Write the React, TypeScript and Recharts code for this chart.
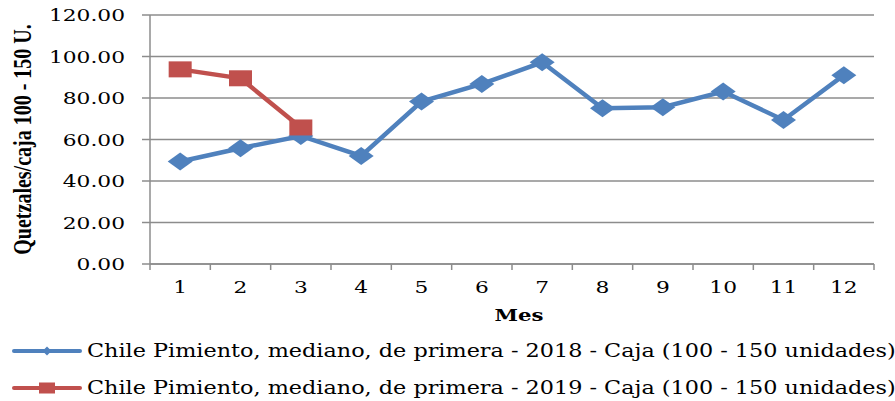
import { LineChart, Line, XAxis, YAxis, CartesianGrid } from "recharts"

// Precio mensual (Q/caja)
const meses = ["1", "2", "3", "4", "5", "6", "7", "8", "9", "10", "11", "12"]
const precios2018 = [49.4, 55.8, 61.7, 52.1, 78.3, 86.8, 97.2, 75.1, 75.6, 83.1, 69.4, 91.0]
const precios2019 = [93.8, 89.5, 65.8, null, null, null, null, null, null, null, null, null]
const yTicks = [0, 20, 40, 60, 80, 100, 120]
const nombresSeries = [
  "Chile Pimiento, mediano, de primera - 2018 - Caja (100 - 150 unidades)",
  "Chile Pimiento, mediano, de primera - 2019 - Caja (100 - 150 unidades)",
]
const tituloX = "Mes"
const tituloY = "Quetzales/caja 100 - 150 U."

const data = meses.map((mes, i) => ({
  mes,
  a2018: precios2018[i],
  a2019: precios2019[i],
}))

const AZUL = "#4F81BD"
const ROJO = "#C0504D"
const GRIS = "#8C8C8C"
const SERIF = "'DejaVu Serif', serif"
const ANCHO = 895
const ALTO = 401
const MARGEN = { top: 15, right: 21, bottom: 107, left: 0 }
const MEDIO_PASO = (ANCHO - 150 - MARGEN.right) / meses.length / 2

function XTick(props: any) {
  const { x, y, payload } = props
  const ultimo = payload.value === meses[meses.length - 1]
  return (
    <g>
      <line x1={x - MEDIO_PASO} x2={x - MEDIO_PASO} y1={y} y2={y + 6} stroke={GRIS} strokeWidth={1.5} />
      {ultimo && (
        <line x1={x + MEDIO_PASO} x2={x + MEDIO_PASO} y1={y} y2={y + 6} stroke={GRIS} strokeWidth={1.5} />
      )}
      <text
        transform={`translate(${x},${y + 29}) scale(1.28,1)`}
        textAnchor="middle"
        fontFamily={SERIF}
        fontSize={17}
        fill="#000"
      >
        {payload.value}
      </text>
    </g>
  )
}

function YTick(props: any) {
  const { x, y, payload } = props
  return (
    <text
      transform={`translate(${x},${y + 6}) scale(1.28,1)`}
      textAnchor="end"
      fontFamily={SERIF}
      fontSize={17}
      fill="#000"
    >
      {Number(payload.value).toFixed(2)}
    </text>
  )
}

function Rombo(props: any) {
  const { cx, cy } = props
  if (cx == null || cy == null) return null
  return (
    <polygon
      points={`${cx - 12.5},${cy} ${cx},${cy - 9} ${cx + 12.5},${cy} ${cx},${cy + 9}`}
      fill={AZUL}
    />
  )
}

function Cuadro(props: any) {
  const { cx, cy, value } = props
  if (cx == null || cy == null || value == null) return null
  return <rect x={cx - 11.5} y={cy - 8} width={23} height={16} fill={ROJO} />
}

function TituloY(props: any) {
  const { viewBox } = props
  const cy = viewBox.y + viewBox.height / 2
  return (
    <text
      transform={`translate(${viewBox.x + 23},${cy}) rotate(-90) scale(1,1.25)`}
      textAnchor="middle"
      dominantBaseline="central"
      fontFamily="'Liberation Serif', serif"
      fontWeight="bold"
      fontSize={20}
      fill="#000"
    >
      {tituloY}
    </text>
  )
}

function TituloX(props: any) {
  const { viewBox } = props
  return (
    <text
      transform={`translate(${viewBox.x + viewBox.width / 2 + 7},${viewBox.y + 57}) scale(1.25,1)`}
      textAnchor="middle"
      fontFamily={SERIF}
      fontWeight="bold"
      fontSize={17}
      fill="#000"
    >
      {tituloX}
    </text>
  )
}

function Leyenda() {
  const filas = [
    { color: AZUL, tipo: "rombo", top: 341 },
    { color: ROJO, tipo: "cuadro", top: 378 },
  ]
  return (
    <>
      {filas.map((f, i) => (
        <div
          key={i}
          style={{
            position: "absolute",
            left: 12,
            top: f.top,
            height: 20,
            display: "flex",
            alignItems: "center",
            whiteSpace: "nowrap",
          }}
        >
          <svg width={70} height={20}>
            <line x1={2} x2={68} y1={10} y2={10} stroke={f.color} strokeWidth={4} strokeLinecap="round" />
            {f.tipo === "rombo" ? (
              <polygon points="30.5,10 35,5.5 39.5,10 35,14.5" fill={f.color} />
            ) : (
              <rect x={27} y={4.5} width={16} height={11} fill={f.color} />
            )}
          </svg>
          <span
            style={{
              marginLeft: 5,
              fontFamily: SERIF,
              fontSize: 18,
              lineHeight: "20px",
              display: "inline-block",
              transform: "scaleX(1.24)",
              transformOrigin: "left center",
              color: "#000",
            }}
          >
            {nombresSeries[i]}
          </span>
        </div>
      ))}
    </>
  )
}

export default function App() {
  return (
    <div
      style={{
        position: "absolute",
        left: 0,
        top: 0,
        width: ANCHO,
        height: ALTO,
        background: "#fff",
        overflow: "hidden",
      }}
    >
      <LineChart width={ANCHO} height={ALTO} data={data} margin={MARGEN}>
        <CartesianGrid vertical={false} stroke={GRIS} strokeWidth={1.5} />
        <XAxis
          dataKey="mes"
          height={30}
          padding={{ left: MEDIO_PASO, right: MEDIO_PASO }}
          stroke={GRIS}
          strokeWidth={1.5}
          tickLine={false}
          tickSize={0}
          tickMargin={0}
          interval={0}
          tick={<XTick />}
          label={{ content: <TituloX /> }}
        />
        <YAxis
          width={150}
          domain={[0, 120]}
          ticks={yTicks}
          stroke={GRIS}
          strokeWidth={1.5}
          tickSize={8}
          tickMargin={17}
          tick={<YTick />}
          label={{ content: <TituloY /> }}
        />
        <Line
          dataKey="a2018"
          stroke={AZUL}
          strokeWidth={4.5}
          dot={<Rombo />}
          activeDot={false}
          isAnimationActive={false}
        />
        <Line
          dataKey="a2019"
          stroke={ROJO}
          strokeWidth={4.5}
          dot={<Cuadro />}
          activeDot={false}
          isAnimationActive={false}
        />
      </LineChart>
      <Leyenda />
    </div>
  )
}
